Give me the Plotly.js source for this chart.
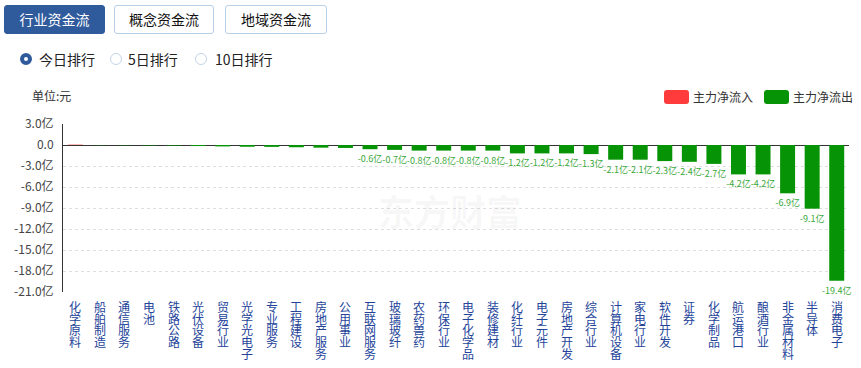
<!DOCTYPE html>
<html>
<head>
<meta charset="utf-8">
<script src="https://cdn.plot.ly/plotly-3.0.1.min.js"></script>
<style>
  html, body { margin: 0; padding: 0; background: #fff; }
  body { width: 861px; height: 368px; position: relative; overflow: hidden;
         font-family: "Microsoft YaHei", "Noto Sans CJK SC", sans-serif; }
  #chart { position: absolute; left: 0; top: 0; width: 861px; height: 368px; }
  .btn { position: absolute; top: 5px; height: 27px; line-height: 27px; text-align: center;
         font-size: 14px; border: 1px solid #b9d0ea; border-radius: 3px; background: #fff; color: #111; z-index: 5; }
  .btn.active { background: #2f5a9c; border-color: #2f5a9c; color: #fff; }
  .radio { position: absolute; top: 53px; height: 14px; font-size: 14px; line-height: 14px; color: #222; z-index: 5; }
  .dot { position: absolute; top: 0; width: 10px; height: 10px; border-radius: 50%; border: 1px solid #c3d4e8; background: #fff; }
  .dot.on { border: 4px solid #2f5a9c; width: 4px; height: 4px; }
  .radio span.t { position: absolute; white-space: nowrap; top: -1px; }
  .lg { position: absolute; top: 90px; width: 25px; height: 14px; border-radius: 3px; z-index: 5; }
  .lgt { position: absolute; top: 89px; font-size: 12px; color: #333; line-height: 16px; z-index: 5; white-space: nowrap; }
</style>
</head>
<body>
<div id="chart"></div>
<div class="btn active" style="left:4px;width:99px;">行业资金流</div>
<div class="btn" style="left:114px;width:98px;">概念资金流</div>
<div class="btn" style="left:225px;width:100px;">地域资金流</div>
<div class="radio" style="left:20px;"><div class="dot on" style="left:0;"></div><span class="t" style="left:19px;">今日排行</span></div>
<div class="radio" style="left:110px;"><div class="dot" style="left:0;"></div><span class="t" style="left:18px;">5日排行</span></div>
<div class="radio" style="left:195px;"><div class="dot" style="left:0;"></div><span class="t" style="left:20px;">10日排行</span></div>
<div class="lg" style="left:664px;background:#ff3b3b;"></div>
<div class="lgt" style="left:693px;">主力净流入</div>
<div class="lg" style="left:764px;background:#069406;"></div>
<div class="lgt" style="left:793px;">主力净流出</div>
<script>
const categories = ['化学原料','船舶制造','通信服务','电池','铁路公路','光伏设备','贸易行业','光学光电子','专业服务','工程建设','房地产服务','公用事业','互联网服务','玻璃玻纤','农药兽药','环保行业','电子化学品','装修建材','化纤行业','电子元件','房地产开发','综合行业','计算机设备','家电行业','软件开发','证券','化学制品','航运港口','酿酒行业','非金属材料','半导体','消费电子'];
const netFlow = [0.05,-0.03,-0.04,-0.06,-0.08,-0.15,-0.2,-0.25,-0.27,-0.32,-0.38,-0.42,-0.6,-0.7,-0.8,-0.8,-0.8,-0.8,-1.2,-1.2,-1.2,-1.3,-2.1,-2.1,-2.3,-2.4,-2.7,-4.2,-4.2,-6.9,-9.1,-19.4];
const yTickVals = [3,0,-3,-6,-9,-12,-15,-18,-21];
const yTickText = ['3.0亿','0.0','-3.0亿','-6.0亿','-9.0亿','-12.0亿','-15.0亿','-18.0亿','-21.0亿'];
const unitLabel = '单位:元';
const watermark = '东方财富';

const FONT = '"Microsoft YaHei", "Noto Sans CJK SC", sans-serif';
const colors = netFlow.map(v => v >= 0 ? '#ff3b3b' : '#069406');
const labels = netFlow.map(v => Math.abs(v) >= 0.5 ? v.toFixed(1) + '亿' : '');

const trace = {
  type: 'bar', x: categories, y: netFlow,
  marker: { color: colors, line: { width: 0 } },
  text: labels, textposition: 'outside', constraintext: 'none', cliponaxis: false,
  textfont: { family: FONT, size: 9, color: '#3aa83a' },
  hoverinfo: 'none', showlegend: false
};

const annotations = categories.map(cat => ({
  xref: 'x', yref: 'paper', x: cat, y: 0, xanchor: 'center', yanchor: 'top',
  yshift: -5, text: Array.from(cat).join('<br>'), showarrow: false, borderpad: 0,
  font: { family: FONT, size: 12, color: '#24449a' }
}));
annotations.push({ xref: 'paper', yref: 'paper', x: -0.014, y: 1.167, xanchor: 'center', yanchor: 'middle',
  text: unitLabel, showarrow: false, font: { family: FONT, size: 12, color: '#333' } });
annotations.push({ xref: 'paper', yref: 'paper', x: 0.492, y: 0.49, xanchor: 'center', yanchor: 'middle',
  text: '<b>' + watermark + '</b>', showarrow: false, font: { family: FONT, size: 36, color: 'rgba(0,0,0,0.045)' } });

const layout = {
  width: 861, height: 368,
  margin: { l: 63, r: 12, t: 124, b: 76, pad: 0 },
  paper_bgcolor: '#fff', plot_bgcolor: '#fff',
  bargap: 0.39,
  font: { family: FONT },
  xaxis: { type: 'category', showticklabels: false, showgrid: false, showline: false, ticks: '', zeroline: false, fixedrange: true },
  yaxis: { range: [-21, 3], tickvals: yTickVals, ticktext: yTickText, showline: true, linecolor: '#333', linewidth: 1,
           showgrid: true, gridcolor: '#dedede', griddash: '3px,3px', gridwidth: 1,
           zeroline: true, zerolinecolor: '#333', zerolinewidth: 1, ticks: '', ticklabelstandoff: 6,
           tickfont: { family: FONT, size: 12, color: '#444' }, fixedrange: true },
  annotations: annotations,
  showlegend: false
};

Plotly.newPlot('chart', [trace], layout, { displayModeBar: false, staticPlot: true }).then(gd => {
  // tighten the stacked (vertical) category labels to the reference's line spacing
  gd.querySelectorAll('.annotation-text').forEach(t => {
    const lines = t.querySelectorAll('tspan.line');
    if (lines.length < 2) return;
    lines.forEach(ts => {
      const dy = parseFloat(ts.getAttribute('dy') || '0');
      ts.setAttribute('dy', (dy * 0.75) + 'em');
    });
  });
});
</script>
</body>
</html>
